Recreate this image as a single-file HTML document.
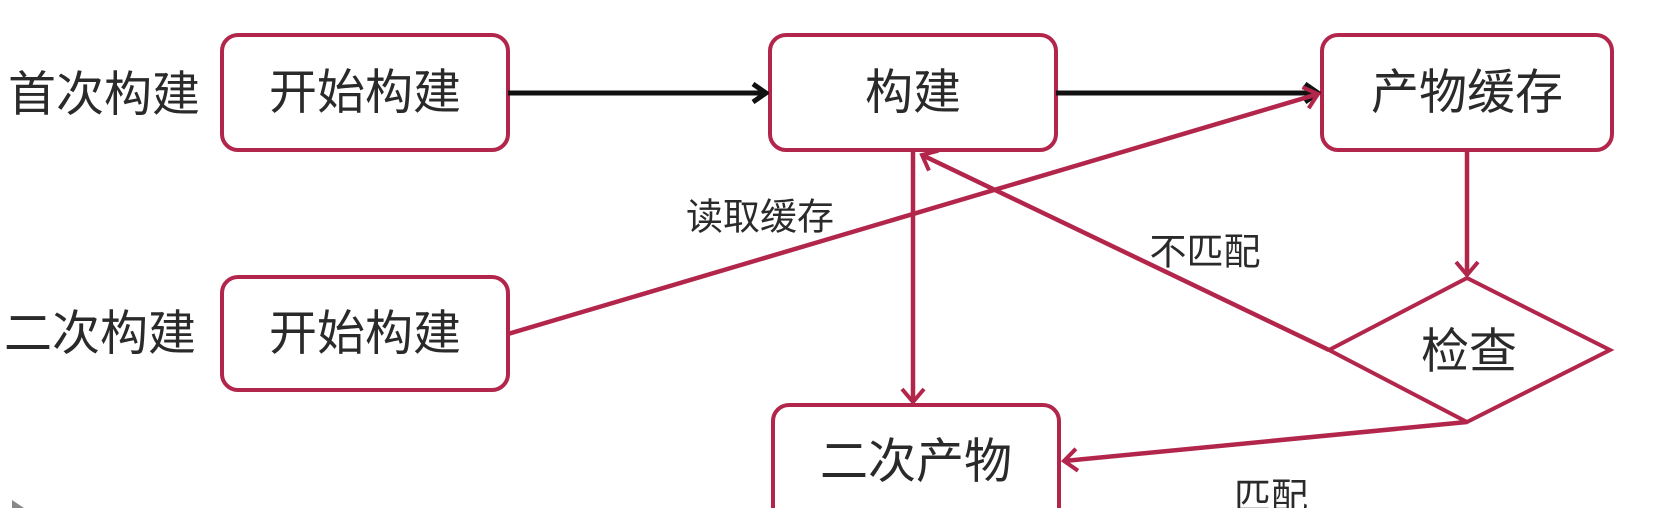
<!DOCTYPE html>
<html><head><meta charset="utf-8"><style>
html,body{margin:0;padding:0;background:#fff;width:1661px;height:508px;overflow:hidden}
svg{display:block}
text{font-family:"Liberation Sans","Noto Sans CJK SC",sans-serif;fill:#2a2a2a}
</style></head><body>
<svg width="1661" height="508" viewBox="0 0 1661 508" xmlns="http://www.w3.org/2000/svg">
<defs>
<marker id="ab" markerWidth="18" markerHeight="22" refX="15" refY="11" orient="auto" markerUnits="userSpaceOnUse"><path d="M2,2 L15,11 L2,20" fill="none" stroke="#111" stroke-width="5"/></marker>
<marker id="ar" markerWidth="18" markerHeight="26" refX="15" refY="13" orient="auto" markerUnits="userSpaceOnUse"><path d="M2,2 L15,13 L2,24" fill="none" stroke="#b3264c" stroke-width="4"/></marker>
</defs>
<g fill="#fff" stroke="#b3264c" stroke-width="4">
<rect x="222" y="35" width="286" height="115" rx="16"/>
<rect x="770" y="35" width="286" height="115" rx="16"/>
<rect x="1322" y="35" width="290" height="115" rx="16"/>
<rect x="222" y="277" width="286" height="113" rx="16"/>
<rect x="773" y="405" width="286" height="120" rx="16"/>
<path d="M1329,350 L1467,278 L1610,350 L1467,422 Z"/>
</g>
<g stroke-width="5" fill="none">
<line x1="508" y1="93" x2="766" y2="93" stroke="#111" marker-end="url(#ab)"/>
<line x1="1056" y1="93" x2="1318" y2="93" stroke="#111" marker-end="url(#ab)"/>
</g>
<g stroke="#b3264c" stroke-width="4.5" fill="none">
<line x1="508" y1="334" x2="1318" y2="94" marker-end="url(#ar)"/>
<line x1="913" y1="150" x2="913" y2="402" marker-end="url(#ar)"/>
<line x1="1329" y1="350" x2="922" y2="155" marker-end="url(#ar)"/>
<line x1="1467" y1="150" x2="1467" y2="275" marker-end="url(#ar)"/>
<line x1="1467" y1="422" x2="1064" y2="461" marker-end="url(#ar)"/>
</g>
<g font-size="48" text-anchor="middle" dominant-baseline="central">
<text x="104" y="95">首次构建</text>
<text x="100" y="334">二次构建</text>
<text x="365" y="93">开始构建</text>
<text x="913" y="93">构建</text>
<text x="1467" y="93">产物缓存</text>
<text x="365" y="334">开始构建</text>
<text x="916" y="462">二次产物</text>
<text x="1469" y="352">检查</text>
</g>
<g font-size="37" text-anchor="middle" dominant-baseline="central">
<text x="760" y="217">读取缓存</text>
<text x="1205" y="252">不匹配</text>
<text x="1271" y="497">匹配</text>
</g>
<path d="M12,500 L24,508 L12,508 Z" fill="#888"/>
</svg>
</body></html>
